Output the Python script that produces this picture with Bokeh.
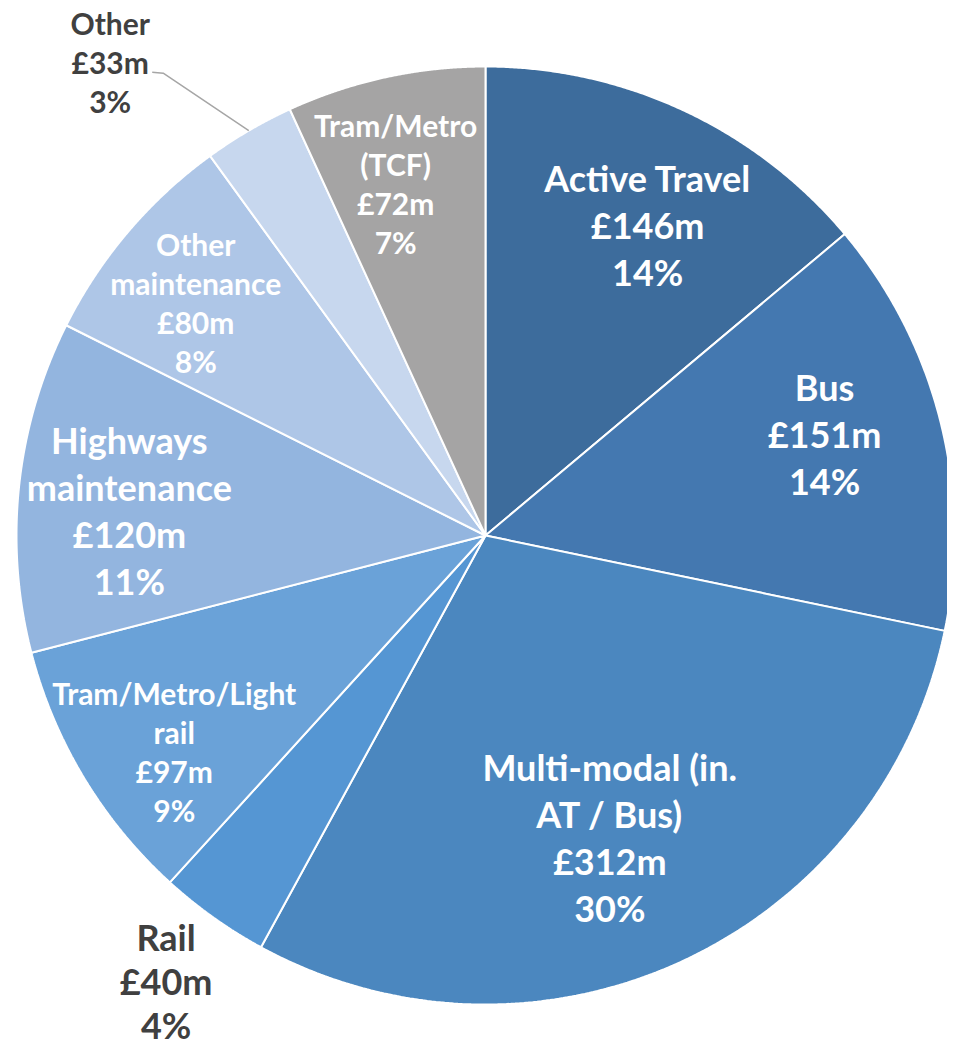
import numpy as np
from bokeh.plotting import figure
from bokeh.models import Range1d, ColumnDataSource
from bokeh.core.properties import value, field
from bokeh.embed import file_html
from bokeh.resources import INLINE

# ---- data (clockwise from 12 o'clock) ----
categories = ["Active Travel", "Bus", "Multi-modal (in.\nAT / Bus)", "Rail",
              "Tram/Metro/Light\nrail", "Highways\nmaintenance", "Other\nmaintenance",
              "Other", "Tram/Metro\n(TCF)"]
values_m = [146, 151, 312, 40, 97, 120, 80, 33, 72]
colors = ["#3D6C9C", "#4478B0", "#4B87BF", "#5596D3", "#6AA2D8",
          "#93B5DF", "#AEC6E7", "#C7D7EE", "#A5A4A4"]

# ---- layout / style (not data) ----
big = [True, True, True, True, False, True, False, False, False]
inside = [True, True, True, False, True, True, True, False, True]
label_r = [350, 354, 327, 548, 379, 357, 372, 604, 363]      # px from centre
label_nudge = [2.6, -2.6, 2.5, 0.2, -3.7, -2.1, -1.5, -8.1, -2.0]  # degrees

W, H = 947, 1047
cx, cy, R = 485, 535, 469
BIG_FS, SMALL_FS = 36, 30
BIG_LS, SMALL_LS = 47, 39

p = figure(width=W, height=H, x_range=Range1d(0, W), y_range=Range1d(H, 0),
           output_backend="svg", toolbar_location=None, min_border=0)
p.axis.visible = False
p.grid.visible = False
p.outline_line_color = None
p.background_fill_color = "white"

vals = np.array(values_m, dtype=float)
total = vals.sum()
ends = np.cumsum(vals) / total * 360.0
starts = np.concatenate([[0.0], ends[:-1]])
mids = (starts + ends) / 2

xs, ys = [], []
for a0, a1 in zip(starts, ends):
    t = np.radians(np.linspace(a0, a1, 200))
    xs.append(np.concatenate([[cx], cx + R * np.sin(t)]).tolist())
    ys.append(np.concatenate([[cy], cy - R * np.cos(t)]).tolist())

p.patches(xs, ys, fill_color=colors, line_color="white", line_width=2)

# ---- labels ----
tx, ty, tt, tsz, tcol = [], [], [], [], []
for i, name in enumerate(categories):
    lines = name.split("\n") + [f"£{values_m[i]}m", f"{round(vals[i] / total * 100):.0f}%"]
    ang = np.radians(mids[i] + label_nudge[i])
    lx = cx + label_r[i] * np.sin(ang)
    ly = cy - label_r[i] * np.cos(ang)
    ls = BIG_LS if big[i] else SMALL_LS
    if i == 3:
        ls = 44
    fs = BIG_FS if big[i] else SMALL_FS
    n = len(lines)
    for k, ln in enumerate(lines):
        tx.append(lx)
        ty.append(ly + (k - (n - 1) / 2) * ls)
        tt.append(ln)
        tsz.append(f"{fs}px")
        tcol.append("white" if inside[i] else "#404040")
    if i == 7:  # leader line for the small "Other" slice
        sx = lx + 42
        sy = ly + 10
        ex = cx + R * np.sin(np.radians(mids[i]))
        ey = cy - R * np.cos(np.radians(mids[i]))
        p.line([sx, sx + 11, ex], [sy, sy + 1, ey], line_color="#A6A6A6", line_width=1.5)

src = ColumnDataSource(dict(x=tx, y=ty, text=tt, size=tsz, color=tcol))
p.text(x="x", y="y", text="text", source=src, text_align="center", text_baseline="middle",
       text_font=value("Lato"), text_font_style="bold", text_font_size=field("size"),
       text_color=field("color"))

open("out.html", "w").write(file_html(p, INLINE))
